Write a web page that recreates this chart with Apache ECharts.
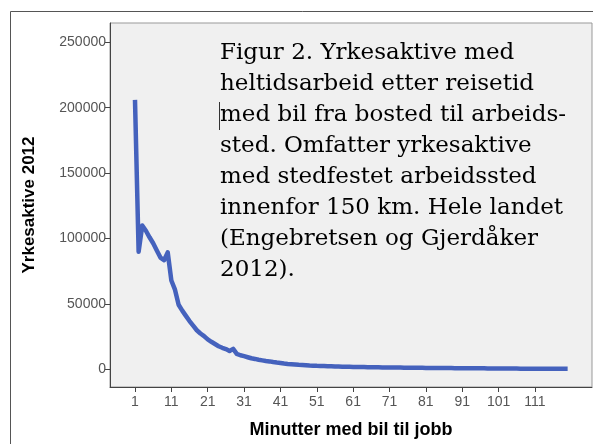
<!DOCTYPE html>
<html>
<head>
<meta charset="utf-8">
<script src="https://cdn.jsdelivr.net/npm/echarts@6/dist/echarts.min.js"></script>
<style>
html,body{margin:0;padding:0;background:#fff;}
#c{width:593px;height:444px;}
</style>
</head>
<body>
<div id="c"></div>
<script>
const minutes = [];
for (let m = 1; m <= 120; m++) minutes.push(m);
const workers = [
  206000, 90000, 110000, 106000, 101000, 96500, 91000, 85500, 83500, 89500,
  68000, 61000, 49500, 45000, 41000, 37000, 33500, 30000, 27500, 25500,
  23000, 21200, 19500, 17800, 16600, 15600, 14200, 15800, 12000, 10900,
  10200, 9400, 8600, 8100, 7500, 7000, 6500, 6200, 5700, 5300,
  5000, 4600, 4300, 4100, 3900, 3600, 3450, 3250, 3050, 2950,
  2800, 2720, 2600, 2500, 2420, 2330, 2250, 2170, 2120, 2060,
  2000, 1960, 1900, 1850, 1810, 1750, 1710, 1680, 1640, 1600,
  1560, 1510, 1480, 1460, 1420, 1390, 1350, 1330, 1300, 1270,
  1250, 1230, 1200, 1170, 1150, 1130, 1100, 1080, 1050, 1030,
  1000, 980, 965, 940, 920, 905, 880, 860, 845, 820,
  800, 785, 760, 745, 720, 705, 680, 665, 640, 625,
  605, 590, 580, 570, 560, 550, 540, 530, 520, 505
];
const xTicks = [1, 11, 21, 31, 41, 51, 61, 71, 81, 91, 101, 111];
const yTicks = [0, 50000, 100000, 150000, 200000, 250000];
const yTitle = 'Yrkesaktive 2012';
const xTitle = 'Minutter med bil til jobb';
const caption = [
  'Figur 2. Yrkesaktive med',
  'heltidsarbeid etter reisetid',
  'med bil fra bosted til arbeids-',
  'sted. Omfatter yrkesaktive',
  'med stedfestet arbeidssted',
  'innenfor 150 km. Hele landet',
  '(Engebretsen og Gjerdåker',
  '2012).'
];

const chart = echarts.init(document.getElementById('c'), null, {renderer: 'canvas'});
const lbl = {color: '#555', fontFamily: 'Liberation Sans', fontSize: 14, formatter: v => String(v)};
chart.setOption({
  animation: false,
  backgroundColor: '#fff',
  grid: {left: 110, top: 23, right: 1, bottom: 52, show: true,
         backgroundColor: '#f0f0f0', borderColor: '#999', borderWidth: 1},
  xAxis: {
    type: 'value', min: -5.875, max: 126.7,
    name: xTitle, nameLocation: 'middle', nameGap: 34,
    nameTextStyle: {fontFamily: 'Liberation Sans', fontWeight: 'bold', fontSize: 18, color: '#000'},
    axisLine: {show: true, onZero: false, lineStyle: {color: '#444', width: 1}},
    axisTick: {show: true, length: 5, customValues: xTicks, lineStyle: {color: '#444'}},
    axisLabel: Object.assign({customValues: xTicks, margin: 8}, lbl),
    splitLine: {show: false}
  },
  yAxis: {
    type: 'value', min: -13350, max: 264700,
    name: yTitle, nameLocation: 'middle', nameGap: 72, nameRotate: 90,
    nameTextStyle: {fontFamily: 'Liberation Sans', fontWeight: 'bold', fontSize: 17, color: '#000'},
    axisLine: {show: true, onZero: false, lineStyle: {color: '#444', width: 1}},
    axisTick: {show: true, length: 5, customValues: yTicks, lineStyle: {color: '#444'}},
    axisLabel: Object.assign({customValues: yTicks, margin: 4}, lbl),
    splitLine: {show: false}
  },
  series: [{
    type: 'line',
    data: minutes.map((m, i) => [m, workers[i]]),
    showSymbol: false,
    lineStyle: {color: '#4562bd', width: 4.5, join: 'round'},
    z: 3
  }],
  graphic: [
    {type: 'rect', shape: {x: 10.5, y: 11.5, width: 600, height: 500},
     style: {fill: 'none', stroke: '#555', lineWidth: 1}, z: 0, silent: true},
    {type: 'text', left: 220, top: 38, z: 10,
     style: {text: caption.join('\n'), fontFamily: 'DejaVu Serif', fontSize: 23,
             lineHeight: 31, fill: '#000'}},
    {type: 'line', shape: {x1: 219.5, y1: 102, x2: 219.5, y2: 130},
     style: {stroke: '#333', lineWidth: 1}, z: 10}
  ]
});
</script>
</body>
</html>
